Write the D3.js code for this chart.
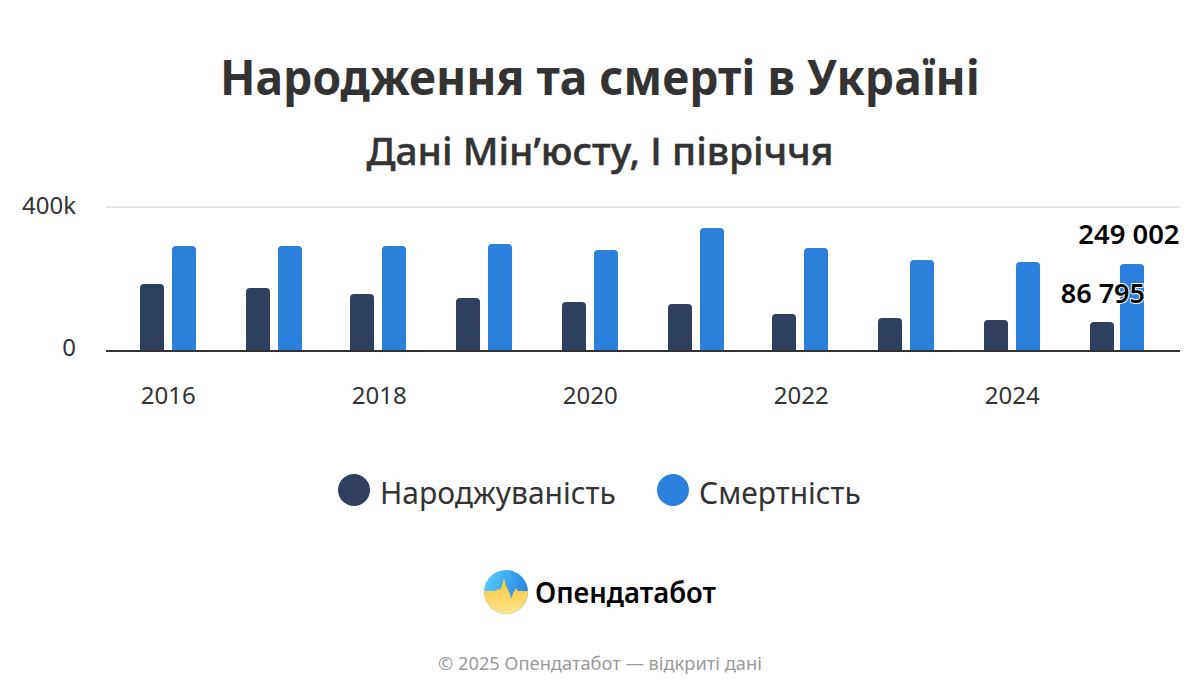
<!DOCTYPE html>
<html lang="uk"><head><meta charset="utf-8">
<script src="https://cdn.jsdelivr.net/npm/d3@7"></script>
<style>
html,body{margin:0;padding:0;background:#fff}
svg{display:block}
text{font-family:"Noto Sans","Open Sans",sans-serif}
</style></head><body><svg id="c" width="1200" height="700"></svg>
<script>
const years=[2016,2017,2018,2019,2020,2021,2022,2023,2024,2025];
const births=[193000,182000,165000,154000,143000,137500,110000,98600,93000,86795];
const deaths=[298600,298600,298600,304000,287500,348600,293000,259700,254000,249002];
const seriesNames=["Народжуваність","Смертність"];
const seriesColors=["#2e3f60","#2b80dc"];
const yTicks=[0,400000];
const yTickLabels=["0","400k"];
const xTickYears=[2016,2018,2020,2022,2024];
const pointLabels=["86 795","249 002"];
const titleText="Народження та смерті в Україні";
const subtitleText="Дані Мін’юсту, І півріччя";
const footerText="© 2025 Опендатабот — відкриті дані";
const logoText="Опендатабот";

const svg=d3.select("#c");
svg.append("text").attr("x",600).attr("y",95).attr("text-anchor","middle")
  .attr("font-size",48).attr("font-weight",700).attr("textLength",760).attr("lengthAdjust","spacingAndGlyphs")
  .attr("fill","#333").text(titleText);
svg.append("text").attr("x",600).attr("y",165).attr("text-anchor","middle")
  .attr("font-size",38.5).attr("font-weight",500).attr("textLength",467).attr("lengthAdjust","spacingAndGlyphs")
  .attr("stroke","#333").attr("stroke-width",0.5)
  .attr("fill","#333").text(subtitleText);

const plotL=106,plotR=1180;
const x=d3.scaleBand().domain(years).range([115.5,1170.4]);
const y=d3.scaleLinear().domain([0,400000]).range([351,207]);
const snap=v=>2*Math.round(v/2);
const barW=24,barOff=[24.4,56.05],topInset=2.5,rad=4;

// grid + y axis
const gy=svg.append("g").attr("transform",`translate(${plotL},0)`)
  .call(d3.axisLeft(y).tickValues(yTicks).tickSize(0).tickPadding(30)
    .tickFormat((d,i)=>yTickLabels[i]));
gy.select(".domain").remove();
gy.selectAll("text").attr("font-size",24).attr("fill","#333").attr("font-family",null)
  .attr("dy",(d,i)=>i===0?"4px":"6px");
gy.selectAll(".tick").select("line").remove();
svg.append("g").selectAll("line").data(yTicks.slice(1)).join("line")
  .attr("x1",plotL).attr("x2",plotR).attr("y1",d=>y(d)).attr("y2",d=>y(d))
  .attr("stroke","#e6e6e6").attr("stroke-width",2);

// bars
const barPath=(xp,top,bottom)=>`M${xp},${bottom}V${top+rad}Q${xp},${top} ${xp+rad},${top}H${xp+barW-rad}Q${xp+barW},${top} ${xp+barW},${top+rad}V${bottom}Z`;
[births,deaths].forEach((vals,s)=>{
  svg.append("g").selectAll("path").data(vals).join("path")
    .attr("fill",seriesColors[s])
    .attr("d",(v,i)=>barPath(snap(x(years[i])+barOff[s]),snap(y(v)+topInset),y(0)));
});
// baseline
svg.append("line").attr("x1",plotL).attr("x2",plotR).attr("y1",y(0)).attr("y2",y(0))
  .attr("stroke","#333").attr("stroke-width",2);

// x axis
const gx=svg.append("g").attr("transform",`translate(0,${y(0)})`)
  .call(d3.axisBottom(x).tickValues(xTickYears).tickSize(0).tickPadding(36).tickFormat(d3.format("d")));
gx.select(".domain").remove();
gx.selectAll("text").attr("font-size",24).attr("fill","#333").attr("font-family",null);

// point labels
const lastI=years.length-1;
[[births,0,303],[deaths,1,244]].forEach(([vals,s,base])=>{
  svg.append("text").attr("text-anchor","end")
    .attr("x",s===0?snap(x(years[lastI])+barOff[1])+barW+1:plotR-0.5)
    .attr("y",base)
    .attr("font-size",s===0?27:27.4).attr("font-weight",600).attr("fill","#000")
    .attr("stroke","#fff").attr("stroke-width",2).attr("paint-order","stroke").attr("stroke-linejoin","round")
    .text(pointLabels[s]);
});

// legend
const lg=[{cx:354,tx:380},{cx:673,tx:699}];
lg.forEach((l,i)=>{
  svg.append("circle").attr("cx",l.cx).attr("cy",490).attr("r",16).attr("fill",seriesColors[i]);
  svg.append("text").attr("x",l.tx).attr("y",504).attr("font-size",30).attr("fill","#333").text(seriesNames[i]);
});

// logo
const defs=svg.append("defs");
const g1=defs.append("linearGradient").attr("id","sky").attr("x1",0).attr("y1",0).attr("x2",1).attr("y2",0.15);
g1.append("stop").attr("offset",0).attr("stop-color","#58cdfb");
g1.append("stop").attr("offset",1).attr("stop-color","#2a88e4");
const g2=defs.append("linearGradient").attr("id","sun").attr("x1",0).attr("y1",0).attr("x2",0).attr("y2",1);
g2.append("stop").attr("offset",0).attr("stop-color","#f9c535");
g2.append("stop").attr("offset",1).attr("stop-color","#fee48e");
defs.append("clipPath").attr("id","lc").append("circle").attr("cx",506).attr("cy",592).attr("r",22);
const lo=svg.append("g").attr("clip-path","url(#lc)");
lo.append("rect").attr("x",484).attr("y",570).attr("width",44).attr("height",44).attr("fill","url(#sky)");
lo.append("path").attr("fill","url(#sun)")
  .attr("d","M484,591L495,591L498,589L500,590L502,586L504,578L506,586L508,590L510,594L511,599L513,593L515,590L516,588L518,591L528,591V614H484Z");
svg.append("text").attr("x",535).attr("y",603).attr("font-size",28).attr("font-weight",600)
  .attr("textLength",181).attr("lengthAdjust","spacingAndGlyphs").attr("fill","#000").text(logoText);

// footer
svg.append("text").attr("x",600).attr("y",670).attr("text-anchor","middle")
  .attr("font-size",18.3).attr("fill","#999").text(footerText);
</script></body></html>
